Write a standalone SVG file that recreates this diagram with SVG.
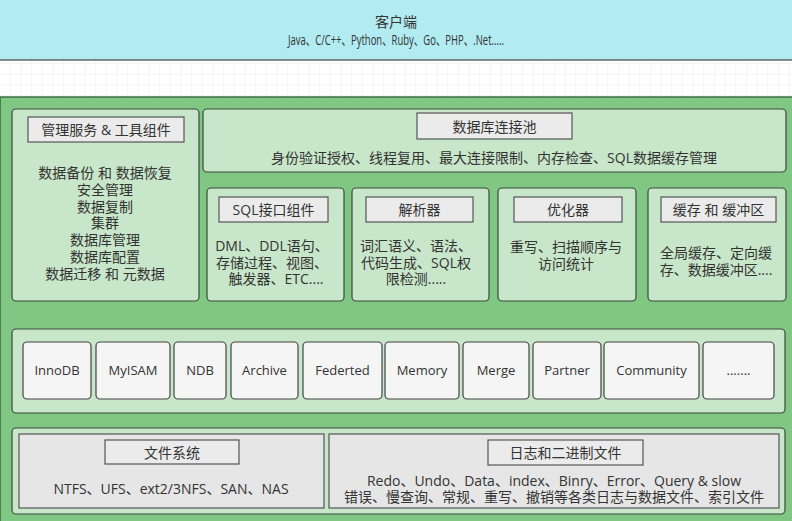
<svg xmlns="http://www.w3.org/2000/svg" width="792" height="521" viewBox="0 0 792 521">
<style>
text{font-family:"Open Sans","Noto Sans CJK SC",sans-serif;font-size:14px;fill:#333;text-anchor:middle;dominant-baseline:central}
.panel{fill:#c8e6c9;stroke:#3a4a3a;stroke-width:1.2}
.tbox{fill:#ebebeb;stroke:#555;stroke-width:1.2}
.eng{fill:#f5f5f5;stroke:#444;stroke-width:1.2}
.fbox{fill:#e6e6e6;stroke:#555;stroke-width:1.2}
.et{font-size:13px}
</style>
<defs>
<pattern id="grid" width="10.67" height="10.67" patternUnits="userSpaceOnUse">
<path d="M10.67 0V10.67H0" fill="none" stroke="#ececec" stroke-width="1"/>
</pattern>
</defs>
<rect x="0" y="0" width="792" height="521" fill="#fff"/>
<rect x="0" y="60" width="792" height="40" fill="url(#grid)"/>
<g id="client">
<rect x="-1" y="-1" width="794" height="61" fill="#b2ebf2" stroke="#444" stroke-width="1.2"/>
<text x="396" y="21" font-size="13">客户端</text>
<text x="396" y="39" font-size="14" textLength="216" lengthAdjust="spacingAndGlyphs">Java、C/C++、Python、Ruby、Go、PHP、.Net.....</text>
</g>
<g id="server">
<rect x="0" y="97" width="793" height="426" fill="#81c784" stroke="#3e6b40" stroke-width="1.5"/>
</g>
<g id="mgmt">
<rect class="panel" x="12" y="109" width="187" height="192" rx="4"/>
<rect class="tbox" x="28" y="117" width="156" height="25"/>
<text x="106" y="129.5">管理服务 &amp; 工具组件</text>
<text x="105" y="172"><tspan x="105">数据备份 和 数据恢复</tspan><tspan x="105" dy="16.8">安全管理</tspan><tspan x="105" dy="16.8">数据复制</tspan><tspan x="105" dy="16.8">集群</tspan><tspan x="105" dy="16.8">数据库管理</tspan><tspan x="105" dy="16.8">数据库配置</tspan><tspan x="105" dy="16.8">数据迁移 和 元数据</tspan></text>
</g>
<g id="pool">
<rect class="panel" x="203" y="109" width="583" height="63" rx="4"/>
<rect class="tbox" x="417" y="113" width="155" height="26"/>
<text x="494.5" y="126">数据库连接池</text>
<text x="494" y="157">身份验证授权、线程复用、最大连接限制、内存检查、SQL数据缓存管理</text>
</g>
<g id="sql">
<rect class="panel" x="207" y="188" width="137" height="113" rx="4"/>
<rect class="tbox" x="219" y="197" width="109" height="25"/>
<text x="273.5" y="209.5">SQL接口组件</text>
<text x="272" y="245"><tspan x="272">DML、DDL语句、</tspan><tspan x="272" dy="16.5">存储过程、视图、</tspan><tspan x="276" dy="16.5">触发器、ETC....</tspan></text>
</g>
<g id="parser">
<rect class="panel" x="352" y="188" width="137" height="113" rx="4"/>
<rect class="tbox" x="366" y="197" width="107" height="25"/>
<text x="419.5" y="209.5">解析器</text>
<text x="416" y="245"><tspan x="416">词汇语义、语法、</tspan><tspan x="416" dy="16.5">代码生成、SQL权</tspan><tspan x="416" dy="16.5">限检测.....</tspan></text>
</g>
<g id="optimizer">
<rect class="panel" x="498" y="188" width="138" height="113" rx="4"/>
<rect class="tbox" x="514" y="197" width="108" height="25"/>
<text x="568" y="209.5">优化器</text>
<text x="566" y="246"><tspan x="566">重写、扫描顺序与</tspan><tspan x="566" dy="16.5">访问统计</tspan></text>
</g>
<g id="cache">
<rect class="panel" x="648" y="188" width="138" height="113" rx="4"/>
<rect class="tbox" x="661" y="197" width="115" height="25"/>
<text x="718.5" y="209.5">缓存 和 缓冲区</text>
<text x="716" y="252"><tspan x="716">全局缓存、定向缓</tspan><tspan x="716" dy="16.5">存、数据缓冲区....</tspan></text>
</g>
<g id="engines">
<rect class="panel" x="12" y="329" width="773" height="84" rx="4"/>
<g id="innodb"><rect class="eng" x="23" y="342" width="68" height="57" rx="4"/><text class="et" x="57" y="370">InnoDB</text></g>
<g id="myisam"><rect class="eng" x="96" y="342" width="74" height="57" rx="4"/><text class="et" x="133" y="370">MyISAM</text></g>
<g id="ndb"><rect class="eng" x="174" y="342" width="52" height="57" rx="4"/><text class="et" x="200" y="370">NDB</text></g>
<g id="archive"><rect class="eng" x="231" y="342" width="67" height="57" rx="4"/><text class="et" x="264.5" y="370">Archive</text></g>
<g id="federted"><rect class="eng" x="303" y="342" width="79" height="57" rx="4"/><text class="et" x="342.5" y="370">Federted</text></g>
<g id="memory"><rect class="eng" x="385" y="342" width="74" height="57" rx="4"/><text class="et" x="422" y="370">Memory</text></g>
<g id="merge"><rect class="eng" x="463" y="342" width="66" height="57" rx="4"/><text class="et" x="496" y="370">Merge</text></g>
<g id="partner"><rect class="eng" x="533" y="342" width="68" height="57" rx="4"/><text class="et" x="567" y="370">Partner</text></g>
<g id="community"><rect class="eng" x="604" y="342" width="95" height="57" rx="4"/><text class="et" x="651.5" y="370">Community</text></g>
<g id="more"><rect class="eng" x="703" y="342" width="71" height="57" rx="4"/><text class="et" x="738.5" y="370" textLength="24" lengthAdjust="spacing">.......</text></g>
</g>
<g id="storage">
<rect class="panel" x="12" y="428" width="773" height="86" rx="4"/>
</g>
<g id="fs">
<rect class="fbox" x="19" y="434" width="305" height="74"/>
<rect class="tbox" x="105" y="440" width="134" height="24"/>
<text x="172" y="452">文件系统</text>
<text x="171" y="488">NTFS、UFS、ext2/3NFS、SAN、NAS</text>
</g>
<g id="logs">
<rect class="fbox" x="329" y="434" width="450" height="74"/>
<rect class="tbox" x="488" y="440" width="155" height="25"/>
<text x="565.5" y="452.5">日志和二进制文件</text>
<text x="554" y="480"><tspan x="554">Redo、Undo、Data、index、Binry、Error、Query &amp; slow</tspan><tspan x="554" dy="16">错误、慢查询、常规、重写、撤销等各类日志与数据文件、索引文件</tspan></text>
</g>
<g id="connectors"></g>
</svg>
